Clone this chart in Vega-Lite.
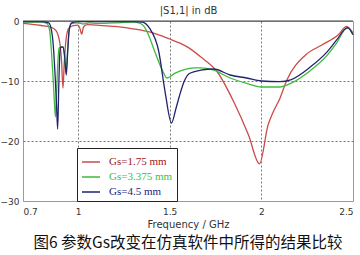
{
  "$schema": "https://vega.github.io/schema/vega-lite/v6.json",
  "width": 330,
  "height": 180,
  "autosize": {"type": "none"},
  "padding": {"left": 23, "top": 21, "right": 7, "bottom": 54},
  "background": "white",
  "title": {"text": "图6 参数Gs改变在仿真软件中所得的结果比较", "orient": "bottom", "anchor": "middle", "font": "Noto Sans CJK SC", "fontSize": 15.5, "fontWeight": "normal", "color": "#111111", "offset": 7},
  "config": {"view": {"stroke": "#9a9a9a", "strokeWidth": 1}},
  "datasets": {
    "curves": [
      {"s": "Gs=1.75 mm", "f": 0.70, "db": -0.4},
      {"s": "Gs=1.75 mm", "f": 0.75, "db": -0.55},
      {"s": "Gs=1.75 mm", "f": 0.80, "db": -0.75},
      {"s": "Gs=1.75 mm", "f": 0.85, "db": -1.0},
      {"s": "Gs=1.75 mm", "f": 0.88, "db": -1.6},
      {"s": "Gs=1.75 mm", "f": 0.90, "db": -3.5},
      {"s": "Gs=1.75 mm", "f": 0.91, "db": -6.5},
      {"s": "Gs=1.75 mm", "f": 0.918, "db": -11.2},
      {"s": "Gs=1.75 mm", "f": 0.925, "db": -7},
      {"s": "Gs=1.75 mm", "f": 0.935, "db": -3},
      {"s": "Gs=1.75 mm", "f": 0.95, "db": -1.2},
      {"s": "Gs=1.75 mm", "f": 0.97, "db": -0.8},
      {"s": "Gs=1.75 mm", "f": 1.00, "db": -0.7},
      {"s": "Gs=1.75 mm", "f": 1.01, "db": -1.2},
      {"s": "Gs=1.75 mm", "f": 1.02, "db": -2.2},
      {"s": "Gs=1.75 mm", "f": 1.03, "db": -1.0},
      {"s": "Gs=1.75 mm", "f": 1.05, "db": -0.6},
      {"s": "Gs=1.75 mm", "f": 1.10, "db": -0.7},
      {"s": "Gs=1.75 mm", "f": 1.20, "db": -0.9},
      {"s": "Gs=1.75 mm", "f": 1.30, "db": -1.3},
      {"s": "Gs=1.75 mm", "f": 1.40, "db": -1.9},
      {"s": "Gs=1.75 mm", "f": 1.50, "db": -3.0},
      {"s": "Gs=1.75 mm", "f": 1.556, "db": -3.7},
      {"s": "Gs=1.75 mm", "f": 1.60, "db": -4.4},
      {"s": "Gs=1.75 mm", "f": 1.67, "db": -6.0},
      {"s": "Gs=1.75 mm", "f": 1.76, "db": -8.5},
      {"s": "Gs=1.75 mm", "f": 1.85, "db": -13.5},
      {"s": "Gs=1.75 mm", "f": 1.93, "db": -19},
      {"s": "Gs=1.75 mm", "f": 1.99, "db": -23.8},
      {"s": "Gs=1.75 mm", "f": 2.037, "db": -17.3},
      {"s": "Gs=1.75 mm", "f": 2.064, "db": -15.2},
      {"s": "Gs=1.75 mm", "f": 2.10, "db": -13.0},
      {"s": "Gs=1.75 mm", "f": 2.14, "db": -9.8},
      {"s": "Gs=1.75 mm", "f": 2.24, "db": -5.7},
      {"s": "Gs=1.75 mm", "f": 2.33, "db": -4.0},
      {"s": "Gs=1.75 mm", "f": 2.42, "db": -2.3},
      {"s": "Gs=1.75 mm", "f": 2.465, "db": -0.9},
      {"s": "Gs=1.75 mm", "f": 2.50, "db": -2.0},

      {"s": "Gs=3.375 mm", "f": 0.70, "db": -0.2},
      {"s": "Gs=3.375 mm", "f": 0.80, "db": -0.2},
      {"s": "Gs=3.375 mm", "f": 0.83, "db": -0.4},
      {"s": "Gs=3.375 mm", "f": 0.845, "db": -1.5},
      {"s": "Gs=3.375 mm", "f": 0.855, "db": -5},
      {"s": "Gs=3.375 mm", "f": 0.865, "db": -10},
      {"s": "Gs=3.375 mm", "f": 0.872, "db": -14},
      {"s": "Gs=3.375 mm", "f": 0.877, "db": -16},
      {"s": "Gs=3.375 mm", "f": 0.883, "db": -12},
      {"s": "Gs=3.375 mm", "f": 0.89, "db": -7},
      {"s": "Gs=3.375 mm", "f": 0.897, "db": -4.5},
      {"s": "Gs=3.375 mm", "f": 0.905, "db": -4.3},
      {"s": "Gs=3.375 mm", "f": 0.918, "db": -4.3},
      {"s": "Gs=3.375 mm", "f": 0.925, "db": -5.5},
      {"s": "Gs=3.375 mm", "f": 0.935, "db": -8.5},
      {"s": "Gs=3.375 mm", "f": 0.943, "db": -5},
      {"s": "Gs=3.375 mm", "f": 0.952, "db": -1.5},
      {"s": "Gs=3.375 mm", "f": 0.965, "db": -0.4},
      {"s": "Gs=3.375 mm", "f": 1.00, "db": -0.3},
      {"s": "Gs=3.375 mm", "f": 1.03, "db": -0.5},
      {"s": "Gs=3.375 mm", "f": 1.06, "db": -0.3},
      {"s": "Gs=3.375 mm", "f": 1.10, "db": -0.4},
      {"s": "Gs=3.375 mm", "f": 1.20, "db": -0.3},
      {"s": "Gs=3.375 mm", "f": 1.30, "db": -0.2},
      {"s": "Gs=3.375 mm", "f": 1.34, "db": -0.4},
      {"s": "Gs=3.375 mm", "f": 1.36, "db": -0.9},
      {"s": "Gs=3.375 mm", "f": 1.38, "db": -2.0},
      {"s": "Gs=3.375 mm", "f": 1.42, "db": -5.2},
      {"s": "Gs=3.375 mm", "f": 1.46, "db": -8.2},
      {"s": "Gs=3.375 mm", "f": 1.485, "db": -9.5},
      {"s": "Gs=3.375 mm", "f": 1.53, "db": -8.7},
      {"s": "Gs=3.375 mm", "f": 1.58, "db": -8.1},
      {"s": "Gs=3.375 mm", "f": 1.63, "db": -7.8},
      {"s": "Gs=3.375 mm", "f": 1.67, "db": -7.8},
      {"s": "Gs=3.375 mm", "f": 1.74, "db": -8.2},
      {"s": "Gs=3.375 mm", "f": 1.83, "db": -9.5},
      {"s": "Gs=3.375 mm", "f": 1.92, "db": -10.4},
      {"s": "Gs=3.375 mm", "f": 2.00, "db": -11.0},
      {"s": "Gs=3.375 mm", "f": 2.10, "db": -11.0},
      {"s": "Gs=3.375 mm", "f": 2.16, "db": -10.4},
      {"s": "Gs=3.375 mm", "f": 2.27, "db": -8.2},
      {"s": "Gs=3.375 mm", "f": 2.36, "db": -5.7},
      {"s": "Gs=3.375 mm", "f": 2.41, "db": -3.7},
      {"s": "Gs=3.375 mm", "f": 2.46, "db": -1.3},
      {"s": "Gs=3.375 mm", "f": 2.475, "db": -1.2},
      {"s": "Gs=3.375 mm", "f": 2.50, "db": -2.3},

      {"s": "Gs=4.5 mm", "f": 0.70, "db": -0.1},
      {"s": "Gs=4.5 mm", "f": 0.80, "db": -0.1},
      {"s": "Gs=4.5 mm", "f": 0.84, "db": -0.3},
      {"s": "Gs=4.5 mm", "f": 0.855, "db": -1.5},
      {"s": "Gs=4.5 mm", "f": 0.865, "db": -4},
      {"s": "Gs=4.5 mm", "f": 0.875, "db": -9},
      {"s": "Gs=4.5 mm", "f": 0.883, "db": -14},
      {"s": "Gs=4.5 mm", "f": 0.889, "db": -18},
      {"s": "Gs=4.5 mm", "f": 0.895, "db": -11},
      {"s": "Gs=4.5 mm", "f": 0.90, "db": -6},
      {"s": "Gs=4.5 mm", "f": 0.905, "db": -4.4},
      {"s": "Gs=4.5 mm", "f": 0.918, "db": -4.3},
      {"s": "Gs=4.5 mm", "f": 0.926, "db": -5.5},
      {"s": "Gs=4.5 mm", "f": 0.936, "db": -9},
      {"s": "Gs=4.5 mm", "f": 0.944, "db": -5},
      {"s": "Gs=4.5 mm", "f": 0.952, "db": -1.5},
      {"s": "Gs=4.5 mm", "f": 0.965, "db": -0.3},
      {"s": "Gs=4.5 mm", "f": 1.00, "db": -0.1},
      {"s": "Gs=4.5 mm", "f": 1.10, "db": -0.1},
      {"s": "Gs=4.5 mm", "f": 1.20, "db": -0.1},
      {"s": "Gs=4.5 mm", "f": 1.30, "db": -0.1},
      {"s": "Gs=4.5 mm", "f": 1.35, "db": -0.2},
      {"s": "Gs=4.5 mm", "f": 1.39, "db": -1.2},
      {"s": "Gs=4.5 mm", "f": 1.44, "db": -5},
      {"s": "Gs=4.5 mm", "f": 1.475, "db": -11.8},
      {"s": "Gs=4.5 mm", "f": 1.51, "db": -17},
      {"s": "Gs=4.5 mm", "f": 1.535, "db": -14.5},
      {"s": "Gs=4.5 mm", "f": 1.56, "db": -11.8},
      {"s": "Gs=4.5 mm", "f": 1.58, "db": -10},
      {"s": "Gs=4.5 mm", "f": 1.61, "db": -8.7},
      {"s": "Gs=4.5 mm", "f": 1.67, "db": -8.2},
      {"s": "Gs=4.5 mm", "f": 1.74, "db": -8.0},
      {"s": "Gs=4.5 mm", "f": 1.83, "db": -9.0},
      {"s": "Gs=4.5 mm", "f": 1.92, "db": -9.5},
      {"s": "Gs=4.5 mm", "f": 2.00, "db": -10.0},
      {"s": "Gs=4.5 mm", "f": 2.10, "db": -10.1},
      {"s": "Gs=4.5 mm", "f": 2.16, "db": -9.8},
      {"s": "Gs=4.5 mm", "f": 2.27, "db": -7.6},
      {"s": "Gs=4.5 mm", "f": 2.36, "db": -5.1},
      {"s": "Gs=4.5 mm", "f": 2.41, "db": -3.2},
      {"s": "Gs=4.5 mm", "f": 2.47, "db": -1.1},
      {"s": "Gs=4.5 mm", "f": 2.50, "db": -2.3}
    ],
    "top": [{"v": 0}]
  },
  "layer": [
    {
      "data": {"name": "curves"},
      "mark": {"type": "line", "interpolate": "monotone", "strokeWidth": 1.3},
      "encoding": {
        "x": {
          "field": "f", "type": "quantitative",
          "scale": {"domain": [0.7, 2.5], "nice": false, "zero": false},
          "axis": {
            "values": [0.7, 1, 1.5, 2, 2.5], "format": "~g",
            "title": "Frequency / GHz", "titleFont": "DejaVu Sans", "titleFontSize": 10, "titleFontWeight": "normal", "titleColor": "#333333", "titlePadding": 3,
            "labelFont": "DejaVu Sans", "labelFontSize": 9, "labelColor": "#333333", "labelPadding": 6,
            "domain": false, "ticks": false,
            "grid": true, "gridColor": "#777777", "gridDash": [2, 2], "gridWidth": 1,
            "gridOpacity": {"condition": {"test": "datum.value < 0.8 || datum.value > 2.4", "value": 0}, "value": 1}
          }
        },
        "y": {
          "field": "db", "type": "quantitative",
          "scale": {"domain": [-30, 0], "nice": false, "zero": false},
          "axis": {
            "values": [0, -10, -20, -30],
            "title": "|S1,1| in dB", "titleAngle": 0, "titleX": 165, "titleY": -11, "titleAlign": "center", "titleBaseline": "middle",
            "titleFont": "DejaVu Sans", "titleFontSize": 10, "titleFontWeight": "normal", "titleColor": "#333333",
            "labelFont": "DejaVu Sans", "labelFontSize": 9, "labelColor": "#333333", "labelPadding": 4,
            "domain": false, "ticks": false,
            "grid": true, "gridColor": "#777777", "gridDash": [2, 2], "gridWidth": 1,
            "gridOpacity": {"condition": {"test": "datum.value === 0 || datum.value === -30", "value": 0}, "value": 1}
          }
        },
        "color": {
          "field": "s", "type": "nominal",
          "scale": {"domain": ["Gs=1.75 mm", "Gs=3.375 mm", "Gs=4.5 mm"], "range": ["#cc4a4a", "#3dbb3d", "#22226e"]},
          "legend": {
            "orient": "none", "legendX": 54, "legendY": 127, "title": null,
            "fillColor": "white", "strokeColor": "#222222", "padding": 4,
            "symbolType": "stroke", "symbolSize": 324, "symbolStrokeWidth": 1.5,
            "labelFont": "Liberation Serif", "labelFontSize": 11, "labelOffset": 8, "rowPadding": -5,
            "labelExpr": "datum.label + '              '",
            "encode": {"labels": {"update": {"fill": {"signal": "datum.value === 'Gs=1.75 mm' ? '#a01818' : datum.value === 'Gs=3.375 mm' ? '#40c040' : '#1a1a80'"}}}}
          }
        }
      }
    },
    {
      "data": {"name": "top"},
      "mark": {"type": "rule", "color": "#444444", "strokeWidth": 1},
      "encoding": {"y": {"field": "v", "type": "quantitative"}}
    }
  ]
}
